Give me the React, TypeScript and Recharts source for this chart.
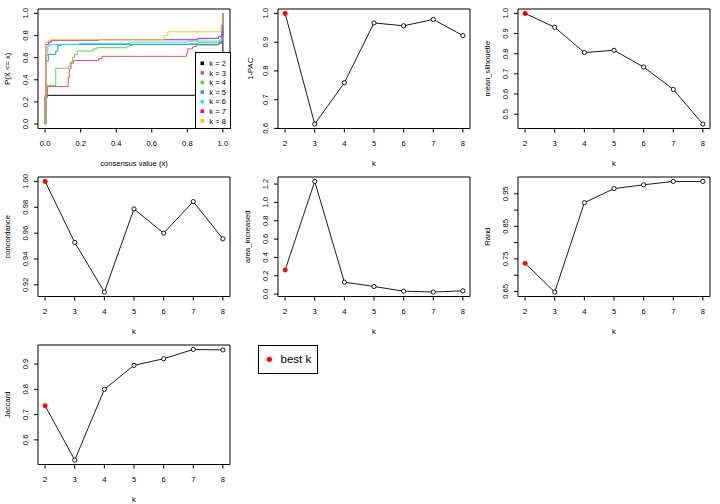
import React from 'react';
import { LineChart, Line, XAxis, YAxis, ReferenceArea, Legend } from 'recharts';

const FONT = '"Liberation Sans", Arial, Helvetica, sans-serif';
const FS = 7.6;

// ---- data ----
const kValues = [2, 3, 4, 5, 6, 7, 8];
const kTicks = [2, 3, 4, 5, 6, 7, 8];
const bestK = 2;

const pacValues = [1.0, 0.615, 0.759, 0.967, 0.957, 0.979, 0.923];
const pacTicks = [0.6, 0.7, 0.8, 0.9, 1.0];

const silhouetteValues = [1.0, 0.931, 0.806, 0.817, 0.734, 0.623, 0.451];
const silhouetteTicks = [0.5, 0.6, 0.7, 0.8, 0.9, 1.0];

const concordanceValues = [1.0, 0.9528, 0.9144, 0.9787, 0.96, 0.9844, 0.9556];
const concordanceTicks = [0.92, 0.94, 0.96, 0.98, 1.0];

const areaValues = [0.263, 1.229, 0.13, 0.083, 0.032, 0.022, 0.036];
const areaTicks = [0.0, 0.2, 0.4, 0.6, 0.8, 1.0, 1.2];

const randValues = [0.7365, 0.648, 0.9226, 0.966, 0.9776, 0.988, 0.988];
const randTicks = [0.65, 0.7, 0.75, 0.8, 0.85, 0.9, 0.95];
const randLabeledTicks = [0.65, 0.75, 0.85, 0.95];

const jaccardValues = [0.735, 0.52, 0.8, 0.895, 0.921, 0.958, 0.956];
const jaccardTicks = [0.6, 0.7, 0.8, 0.9];

const consensusTicks = [0.0, 0.2, 0.4, 0.6, 0.8, 1.0];
const probTicks = [0.0, 0.2, 0.4, 0.6, 0.8, 1.0];

const ecdfLabels = ['k = 2', 'k = 3', 'k = 4', 'k = 5', 'k = 6', 'k = 7', 'k = 8'];
const ecdfColors = ['#000000', '#DF536B', '#61D04F', '#2297E6', '#28E2E5', '#CD0BBC', '#F5C710'];

const ecdfK2: [number, number][] = [[0, 0], [0, 0.26], [1, 1]];
const ecdfK3: [number, number][] = [
  [0, 0], [0.004, 0.24], [0.014, 0.34], [0.13, 0.42], [0.136, 0.5], [0.146, 0.55],
  [0.16, 0.575], [0.3, 0.59], [0.32, 0.612], [0.795, 0.64], [0.802, 0.68],
  [0.83, 0.7], [0.85, 0.715], [0.975, 0.73], [0.995, 0.8], [1, 1],
];
const ecdfK4: [number, number][] = [
  [0, 0], [0.004, 0.35], [0.06, 0.505], [0.13, 0.52], [0.14, 0.56], [0.155, 0.6],
  [0.165, 0.63], [0.18, 0.66], [0.27, 0.68], [0.29, 0.69], [0.46, 0.7],
  [0.475, 0.71], [0.49, 0.72], [0.81, 0.725], [0.86, 0.735], [0.98, 0.75],
  [0.995, 0.85], [1, 1],
];
const ecdfK5: [number, number][] = [
  [0, 0], [0.004, 0.57], [0.018, 0.63], [0.06, 0.66], [0.072, 0.71], [0.09, 0.72],
  [0.98, 0.74], [0.995, 0.8], [1, 1],
];
const ecdfK6: [number, number][] = [
  [0, 0], [0.004, 0.62], [0.015, 0.7], [0.026, 0.72], [0.19, 0.73], [0.48, 0.74],
  [0.8, 0.75], [0.98, 0.76], [0.995, 0.85], [1, 1],
];
const ecdfK7: [number, number][] = [
  [0, 0], [0.004, 0.72], [0.02, 0.74], [0.035, 0.757], [0.3, 0.762], [0.86, 0.775],
  [0.975, 0.79], [0.995, 0.9], [1, 1],
];
const ecdfK8: [number, number][] = [
  [0, 0], [0.004, 0.742], [0.016, 0.752], [0.03, 0.762], [0.67, 0.8], [0.69, 0.834],
  [0.99, 0.9], [1, 1],
];
const ecdfSeries = [ecdfK2, ecdfK3, ecdfK4, ecdfK5, ecdfK6, ecdfK7, ecdfK8];

// ---- layout ----
const W = 240;
const H = 168;
const MARGIN = { top: 9, right: 10, bottom: 0, left: 0 };
const Y_AXIS_W = 38;
const X_AXIS_H = 39.5;
const PLOT_MID_Y = 9 + (H - 9 - X_AXIS_H) / 2;

function rRange(vals: number[]): [number, number] {
  const lo = Math.min(...vals);
  const hi = Math.max(...vals);
  const d = (hi - lo) * 0.04;
  return [lo - d, hi + d];
}

function makeYTick(fmt: (v: number) => string, labeled?: number[]) {
  return (props: any) => {
    const { y, payload } = props;
    const v = payload.value as number;
    if (labeled && !labeled.some((l) => Math.abs(l - v) < 1e-9)) return <g />;
    return (
      <text
        x={25}
        y={y}
        transform={`rotate(-90 25 ${y})`}
        textAnchor="middle"
        dy="0.35em"
        fontSize={FS}
        fontFamily={FONT}
        fill="#000"
      >
        {fmt(v)}
      </text>
    );
  };
}

const YTitle = (props: any) => (
  <text
    x={props.tx}
    y={PLOT_MID_Y}
    transform={`rotate(-90 ${props.tx} ${PLOT_MID_Y})`}
    textAnchor="middle"
    dy="0.35em"
    fontSize={FS}
    fontFamily={FONT}
    fill="#000"
  >
    {props.text}
  </text>
);

const renderDot = (p: any) => {
  const best = p.payload && p.payload.k === bestK;
  return (
    <circle
      key={`dot-${p.index}`}
      cx={p.cx}
      cy={p.cy}
      r={2.1}
      fill={best ? '#FF0000' : '#FFFFFF'}
      stroke={best ? '#FF0000' : '#000000'}
      strokeWidth={0.9}
    />
  );
};

const xTickStyle = { fontSize: FS, fill: '#000', fontFamily: FONT };

type MetricProps = {
  values: number[];
  yTicks: number[];
  yLabel: string;
  fmt: (v: number) => string;
  labeled?: number[];
  titleX?: number;
};

function MetricPanel({ values, yTicks, yLabel, fmt, labeled, titleX = 7 }: MetricProps) {
  const data = kValues.map((k, i) => ({ k, v: values[i] }));
  const xDom = rRange(kValues);
  const yDom = rRange(values);
  return (
    <LineChart width={W} height={H} data={data} margin={MARGIN}>
      <XAxis
        dataKey="k"
        type="number"
        domain={xDom}
        allowDataOverflow
        ticks={kTicks}
        interval={0}
        axisLine={false}
        tickSize={4}
        tickMargin={8.6}
        tickLine={{ stroke: '#000' }}
        tick={xTickStyle}
        height={X_AXIS_H}
        label={{ value: 'k', position: 'insideBottom', offset: 2, fontSize: FS, fill: '#000', fontFamily: FONT }}
      />
      <YAxis
        type="number"
        domain={yDom}
        allowDataOverflow
        ticks={yTicks}
        interval={0}
        axisLine={false}
        tickSize={4}
        tickLine={{ stroke: '#000' }}
        tick={makeYTick(fmt, labeled)}
        width={Y_AXIS_W}
        label={<YTitle text={yLabel} tx={titleX} />}
      />
      <ReferenceArea
        x1={xDom[0]}
        x2={xDom[1]}
        y1={yDom[0]}
        y2={yDom[1]}
        fill="none"
        fillOpacity={0}
        stroke="#000"
        strokeWidth={1}
        ifOverflow="visible"
      />
      <Line
        dataKey="v"
        type="linear"
        stroke="#000"
        strokeWidth={0.9}
        isAnimationActive={false}
        dot={renderDot}
        activeDot={false}
      />
    </LineChart>
  );
}

const EcdfLegend = () => (
  <svg width={36} height={77} style={{ display: 'block' }}>
    <rect x={0.5} y={0.5} width={35} height={76} fill="#fff" stroke="#000" strokeWidth={1} />
    {ecdfLabels.map((lab, i) => (
      <g key={lab}>
        <rect x={5.5} y={9.5 + i * 9.6} width={3.6} height={3.6} fill={ecdfColors[i]} />
        <text x={14.3} y={11.3 + i * 9.6} dy="0.35em" fontSize={FS} fontFamily={FONT} fill="#000">
          {lab}
        </text>
      </g>
    ))}
  </svg>
);

function EcdfPanel() {
  const dom: [number, number] = rRange([0, 1]);
  return (
    <LineChart width={W} height={H} margin={MARGIN}>
      <XAxis
        dataKey="x"
        type="number"
        domain={dom}
        allowDataOverflow
        ticks={consensusTicks}
        interval={0}
        tickFormatter={(v: number) => v.toFixed(1)}
        axisLine={false}
        tickSize={4}
        tickMargin={8.6}
        tickLine={{ stroke: '#000' }}
        tick={xTickStyle}
        height={X_AXIS_H}
        label={{ value: 'consensus value (x)', position: 'insideBottom', offset: 2, fontSize: FS, fill: '#000', fontFamily: FONT }}
      />
      <YAxis
        type="number"
        domain={dom}
        allowDataOverflow
        ticks={probTicks}
        interval={0}
        axisLine={false}
        tickSize={4}
        tickLine={{ stroke: '#000' }}
        tick={makeYTick((v) => v.toFixed(1))}
        width={Y_AXIS_W}
        label={<YTitle text="P(X <= x)" tx={7} />}
      />
      <ReferenceArea
        x1={dom[0]}
        x2={dom[1]}
        y1={dom[0]}
        y2={dom[1]}
        fill="none"
        fillOpacity={0}
        stroke="#000"
        strokeWidth={1}
        ifOverflow="visible"
      />
      {ecdfSeries.map((s, i) => (
        <Line
          key={ecdfLabels[i]}
          name={ecdfLabels[i]}
          data={s.map(([x, y]) => ({ x, y }))}
          dataKey="y"
          type="stepAfter"
          stroke={ecdfColors[i]}
          strokeWidth={1}
          dot={false}
          activeDot={false}
          isAnimationActive={false}
        />
      ))}
      <Legend
        content={EcdfLegend}
        layout="vertical"
        align="center"
        verticalAlign="middle"
        wrapperStyle={{ left: 195, top: 52, width: 36, height: 77 }}
      />
    </LineChart>
  );
}

function BestKLegend() {
  return (
    <svg width={W} height={H} style={{ display: 'block' }}>
      <rect x={18.5} y={9.5} width={59} height={28} fill="#fff" stroke="#000" strokeWidth={1} />
      <circle cx={29.3} cy={23.3} r={2.6} fill="#FF0000" />
      <text x={40.5} y={23.3} dy="0.35em" fontSize={11.5} fontFamily={FONT} fill="#000">
        best k
      </text>
    </svg>
  );
}

const cell = (col: number, row: number): React.CSSProperties => ({
  position: 'absolute',
  left: col * W,
  top: row * H,
  width: W,
  height: H,
});

export default function App() {
  return (
    <div style={{ position: 'absolute', left: 0, top: 0, width: 720, height: 504, background: '#fff', overflow: 'hidden' }}>
      <div style={cell(0, 0)}>
        <EcdfPanel />
      </div>
      <div style={cell(1, 0)}>
        <MetricPanel values={pacValues} yTicks={pacTicks} yLabel="1-PAC" fmt={(v) => v.toFixed(1)} titleX={10} />
      </div>
      <div style={cell(2, 0)}>
        <MetricPanel values={silhouetteValues} yTicks={silhouetteTicks} yLabel="mean_silhouette" fmt={(v) => v.toFixed(1)} />
      </div>
      <div style={cell(0, 1)}>
        <MetricPanel values={concordanceValues} yTicks={concordanceTicks} yLabel="concordance" fmt={(v) => v.toFixed(2)} />
      </div>
      <div style={cell(1, 1)}>
        <MetricPanel values={areaValues} yTicks={areaTicks} yLabel="area_increased" fmt={(v) => v.toFixed(1)} />
      </div>
      <div style={cell(2, 1)}>
        <MetricPanel values={randValues} yTicks={randTicks} yLabel="Rand" fmt={(v) => v.toFixed(2)} labeled={randLabeledTicks} />
      </div>
      <div style={cell(0, 2)}>
        <MetricPanel values={jaccardValues} yTicks={jaccardTicks} yLabel="Jaccard" fmt={(v) => v.toFixed(1)} />
      </div>
      <div style={cell(1, 2)}>
        <BestKLegend />
      </div>
    </div>
  );
}
